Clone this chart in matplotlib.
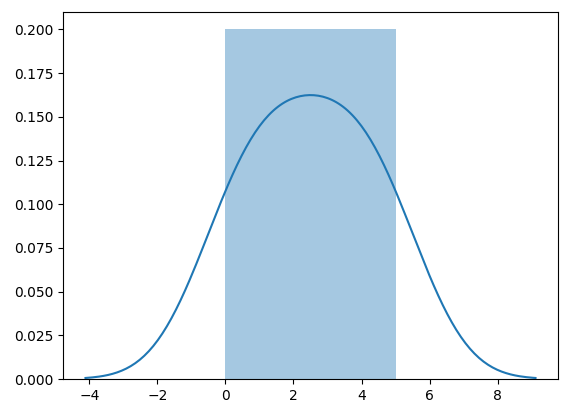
import matplotlib
matplotlib.use('Agg')
import matplotlib.pyplot as plt
import seaborn as sns

# sample values behind the histogram + kde
values = [0, 1, 2, 3, 4, 5]
n_bins = 2
bw_factor = 0.733

fig, ax = plt.subplots(figsize=(5.73, 4.11), dpi=100)
fig.subplots_adjust(left=63 / 573, right=558 / 573, top=1 - 12 / 411, bottom=1 - 379 / 411)

# histogram (density), same look as old distplot
sns.histplot(values, bins=n_bins, stat='density', color='C0', alpha=0.4,
             linewidth=0, ax=ax)
# kde line
sns.kdeplot(values, cut=3, bw_method=bw_factor, color='C0', linewidth=1.5, ax=ax)

ax.set_xlabel('')
ax.set_ylabel('')
ax.set_xticks([-4, -2, 0, 2, 4, 6, 8])

fig.savefig('out.png', dpi=100)
